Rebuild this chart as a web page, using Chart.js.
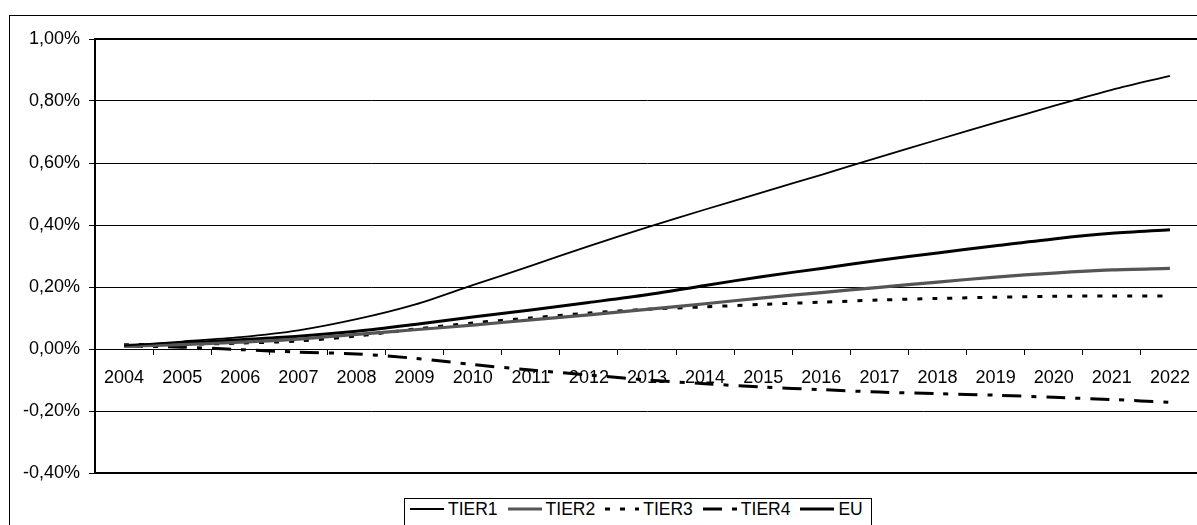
<!DOCTYPE html>
<html>
<head>
<meta charset="utf-8">
<title>TIER</title>
<script src="https://cdn.jsdelivr.net/npm/chart.js@4.4.0/dist/chart.umd.min.js"></script>
<style>
  html, body { margin: 0; padding: 0; background: #fff; overflow: hidden; }
  #wrap { position: relative; width: 1197px; height: 525px; overflow: hidden; }
  #frame { position: absolute; left: 9px; top: 15px; width: 1300px; height: 600px; border: 1px solid #000; }
  #box { position: absolute; left: 0; top: 0; width: 1230px; height: 525px; }
  #legend {
    position: absolute; left: 404px; top: 498px; height: 40px;
    border: 1px solid #000; background: #fff;
    display: flex; align-items: flex-start; padding: 0 8px 0 5px;
    font-family: "Liberation Sans", Arial, sans-serif; font-size: 17.5px; color: #000;
  }
  .item { display: flex; align-items: center; height: 18px; margin-top: 1px; margin-right: 10px; }
  .item:last-child { margin-right: 0; }
  .item svg { margin-right: 4px; }
</style>
</head>
<body>
<div id="wrap">
  <div id="frame"></div>
  <div id="box"><canvas id="chart" width="1230" height="525"></canvas></div>
  <div id="legend"></div>
</div>
<script>
const years = ['2004','2005','2006','2007','2008','2009','2010','2011','2012','2013',
               '2014','2015','2016','2017','2018','2019','2020','2021','2022'];

// values in percent
const tier1 = [0.011, 0.024, 0.038, 0.060, 0.096, 0.143, 0.206, 0.268, 0.332, 0.392,
               0.450, 0.506, 0.562, 0.619, 0.675, 0.730, 0.784, 0.836, 0.881];
const tier2 = [0.009, 0.014, 0.022, 0.032, 0.047, 0.062, 0.077, 0.094, 0.110, 0.128,
               0.146, 0.165, 0.182, 0.199, 0.216, 0.232, 0.245, 0.255, 0.260];
const tier3 = [0.014, 0.015, 0.019, 0.026, 0.042, 0.064, 0.084, 0.100, 0.116, 0.128,
               0.136, 0.144, 0.151, 0.158, 0.163, 0.167, 0.170, 0.171, 0.171];
const tier4 = [0.010, 0.006, -0.002, -0.010, -0.016, -0.030, -0.050, -0.068, -0.084, -0.100,
               -0.112, -0.123, -0.131, -0.139, -0.144, -0.149, -0.156, -0.163, -0.172];
const eu    = [0.011, 0.019, 0.030, 0.041, 0.057, 0.079, 0.103, 0.126, 0.150, 0.175,
               0.205, 0.234, 0.260, 0.286, 0.310, 0.333, 0.355, 0.373, 0.385];

const yMin = -0.4, yMax = 1.0, yStep = 0.2;

Chart.defaults.font.family = '"Liberation Sans", Arial, sans-serif';
Chart.defaults.font.size = 18;
Chart.defaults.color = '#000';

const series = [
  { label: 'TIER1', data: tier1, color: '#000',    width: 1.8, dash: [] },
  { label: 'TIER2', data: tier2, color: '#555',    width: 3.2, dash: [] },
  { label: 'TIER3', data: tier3, color: '#000',    width: 3,   dash: [5, 10] },
  { label: 'TIER4', data: tier4, color: '#000',    width: 3,   dash: [19, 10, 5, 10] },
  { label: 'EU',    data: eu,    color: '#000',    width: 3,   dash: [] },
];

// thick frame round the plot area (top and bottom, left is the axis border)
const plotFrame = {
  id: 'plotFrame',
  afterDatasetsDraw(chart) {
    const { ctx, chartArea: a } = chart;
    ctx.save();
    ctx.strokeStyle = '#000';
    ctx.lineWidth = 2;
    ctx.beginPath();
    ctx.moveTo(a.left, a.top); ctx.lineTo(a.right, a.top);
    ctx.moveTo(a.left, a.bottom); ctx.lineTo(a.right, a.bottom);
    ctx.stroke();
    ctx.restore();
  }
};

const chart = new Chart(document.getElementById('chart'), {
  type: 'line',
  data: {
    labels: years,
    datasets: series.map(s => ({
      label: s.label,
      data: s.data,
      borderColor: s.color,
      borderWidth: s.width,
      borderDash: s.dash,
      pointRadius: 0,
      tension: 0.3,
      fill: false,
    }))
  },
  options: {
    responsive: false,
    animation: false,
    layout: { padding: { top: 39, bottom: 52, left: 0, right: 31 } },
    plugins: { legend: { display: false }, tooltip: { enabled: false } },
    scales: {
      x: {
        position: { y: 0 },
        offset: true,
        afterFit: (s) => { s.height = 0; },
        grid: { drawOnChartArea: false, offset: true, tickLength: 6, color: '#000', lineWidth: 1 },
        border: { display: false },
        ticks: { padding: 12, maxRotation: 0, autoSkip: false, color: '#000' },
      },
      y: {
        min: yMin,
        max: yMax,
        afterFit: (s) => { s.width = 95; },
        ticks: {
          stepSize: yStep,
          padding: 9,
          color: '#000',
          callback: (v) => (Math.abs(v) < 1e-9 ? 0 : v).toFixed(2).replace('.', ',') + '%',
        },
        grid: { color: '#000', lineWidth: 1, tickLength: 6 },
        border: { color: '#000', width: 2 },
      }
    }
  },
  plugins: [plotFrame]
});

// boxed legend built from the datasets
const legend = document.getElementById('legend');
series.forEach(s => {
  const item = document.createElement('div');
  item.className = 'item';
  const svgNS = 'http://www.w3.org/2000/svg';
  const svg = document.createElementNS(svgNS, 'svg');
  svg.setAttribute('width', '34');
  svg.setAttribute('height', '10');
  const line = document.createElementNS(svgNS, 'line');
  line.setAttribute('x1', '0'); line.setAttribute('x2', '34');
  line.setAttribute('y1', '5'); line.setAttribute('y2', '5');
  line.setAttribute('stroke', s.color);
  line.setAttribute('stroke-width', String(s.width));
  if (s.dash.length) line.setAttribute('stroke-dasharray', s.dash.join(' '));
  svg.appendChild(line);
  const txt = document.createElement('span');
  txt.textContent = s.label;
  item.appendChild(svg);
  item.appendChild(txt);
  legend.appendChild(item);
});
</script>
</body>
</html>
